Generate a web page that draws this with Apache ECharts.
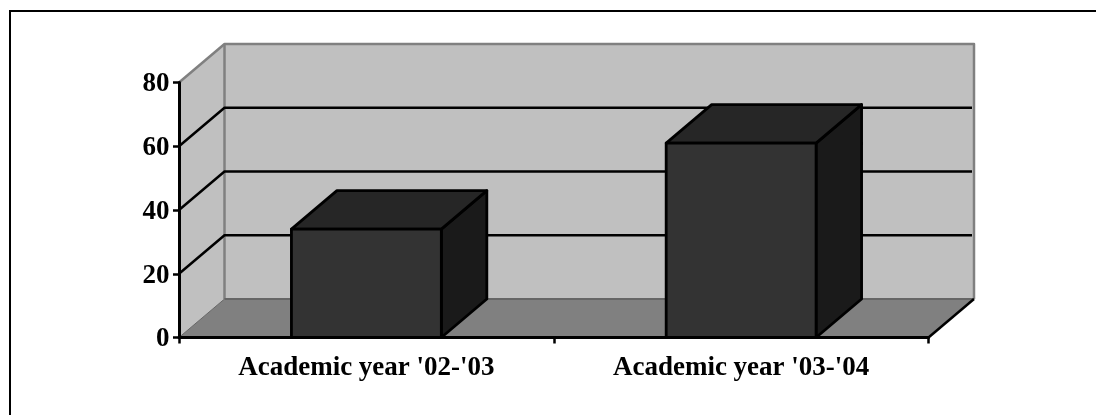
<!DOCTYPE html>
<html>
<head>
<meta charset="utf-8">
<style>html,body{margin:0;padding:0;background:#fff}#chart{width:1096px;height:415px}</style>
<script src="https://cdn.jsdelivr.net/npm/echarts@6/dist/echarts.min.js"></script>
</head>
<body>
<div id="chart"></div>
<script>
const categories = ["Academic year '02-'03", "Academic year '03-'04"];
const enrolment = [34, 61];
const gridValues = [20, 40, 60];

// Oblique projection offset of the back plane, in pixels
const DEPTH_X = 45.5;
const DEPTH_Y = 38.5;
const BAR_RATIO = 0.4;
const WALL = '#C0C0C0', FLOOR = '#808080', EDGE = '#808080';
const INK = '#000000';

function poly(points, fill, stroke, width) {
  return { type: 'polygon', shape: { points },
    style: { fill, stroke: stroke || 'none', lineWidth: width || 0, lineJoin: 'round' } };
}
function line(points, stroke, width) {
  return { type: 'polyline', shape: { points },
    style: { fill: 'none', stroke, lineWidth: width, lineJoin: 'round' } };
}

// Side wall, back wall and floor of the chart box
function renderBox(params, api) {
  const c = params.coordSys;
  const l = c.x, r = c.x + c.width, t = api.coord([0, 80])[1], b = api.coord([0, 0])[1];
  const dx = DEPTH_X, dy = DEPTH_Y;
  return { type: 'group', children: [
    poly([[l, t], [l + dx, t - dy], [l + dx, b - dy], [l, b]], WALL),
    poly([[l + dx, t - dy], [r + dx, t - dy], [r + dx, b - dy], [l + dx, b - dy]], WALL),
    poly([[l, b], [l + dx, b - dy], [r + dx, b - dy], [r, b]], FLOOR),
    line([[l, t], [l + dx, t - dy], [r + dx, t - dy], [r + dx, b - dy]], EDGE, 2.5),
    line([[l + dx, t - dy], [l + dx, b - dy]], EDGE, 2.5),
    line([[l, b], [l + dx, b - dy]], '#666666', 1),
    line([[l + dx, b - dy], [r + dx, b - dy]], '#666666', 2),
    line([[r, b], [r + dx, b - dy]], INK, 2.5)
  ]};
}

// One horizontal gridline, running across the side wall and the back wall
function renderGridLine(params, api) {
  const c = params.coordSys;
  const y = api.coord([0, api.value(1)])[1];
  const l = c.x, r = c.x + c.width;
  return line([[l, y], [l + DEPTH_X, y - DEPTH_Y], [r + DEPTH_X - 2, y - DEPTH_Y]], INK, 2.5);
}

// A bar drawn as a box: right face, top face, then front face
function renderBar(params, api) {
  const i = api.value(0);
  const top = api.coord([i, api.value(1)]);
  const base = api.coord([i, 0]);
  const w = api.size([1, 0])[0] * BAR_RATIO;
  const x0 = top[0] - w / 2, x1 = top[0] + w / 2;
  const yt = top[1], yb = base[1];
  const dx = DEPTH_X, dy = DEPTH_Y;
  return { type: 'group', children: [
    poly([[x1, yt], [x1 + dx, yt - dy], [x1 + dx, yb - dy], [x1, yb]], '#1A1A1A', INK, 2.8),
    poly([[x0, yt], [x0 + dx, yt - dy], [x1 + dx, yt - dy], [x1, yt]], '#262626', INK, 2.8),
    poly([[x0, yt], [x1, yt], [x1, yb], [x0, yb]], '#333333', INK, 2.8)
  ]};
}

const labelFont = { fontFamily: '"Liberation Serif", serif', fontWeight: 'bold', color: '#000' };
const chart = echarts.init(document.getElementById('chart'), null, { renderer: 'canvas' });
chart.setOption({
  animation: false,
  backgroundColor: '#ffffff',
  graphic: [{
    type: 'rect', silent: true,
    shape: { x: 10, y: 11, width: 1200, height: 500 },
    style: { fill: 'none', stroke: INK, lineWidth: 2 }
  }],
  grid: { left: 179, right: 167.5, top: 82.5, bottom: 77.5, containLabel: false },
  xAxis: {
    type: 'category', data: categories, z: 10,
    axisLine: { lineStyle: { color: INK, width: 3 } },
    axisTick: { show: true, alignWithLabel: false, length: 6, lineStyle: { color: INK, width: 2.5 } },
    axisLabel: { ...labelFont, fontSize: 27, margin: 17, interval: 0 },
    splitLine: { show: false }
  },
  yAxis: {
    type: 'value', min: 0, max: 80, interval: 20, z: 10,
    axisLine: { show: true, lineStyle: { color: INK, width: 3 } },
    axisTick: { show: true, length: 6, lineStyle: { color: INK, width: 2.5 } },
    // A short line box hung from the tick sets the digits just below tick centre
    axisLabel: { ...labelFont, fontSize: 27, margin: 9.5, verticalAlign: 'top', lineHeight: 4 },
    splitLine: { show: false }
  },
  series: [
    { type: 'custom', name: 'box', renderItem: renderBox, data: [[0, 0]], silent: true, z: 1 },
    { type: 'custom', name: 'gridlines', renderItem: renderGridLine,
      data: gridValues.map(v => [0, v]), silent: true, z: 2 },
    { type: 'custom', name: 'Enrolment', renderItem: renderBar,
      data: enrolment.map((v, i) => [i, v]), silent: true, z: 3 }
  ]
});
</script>
</body>
</html>
